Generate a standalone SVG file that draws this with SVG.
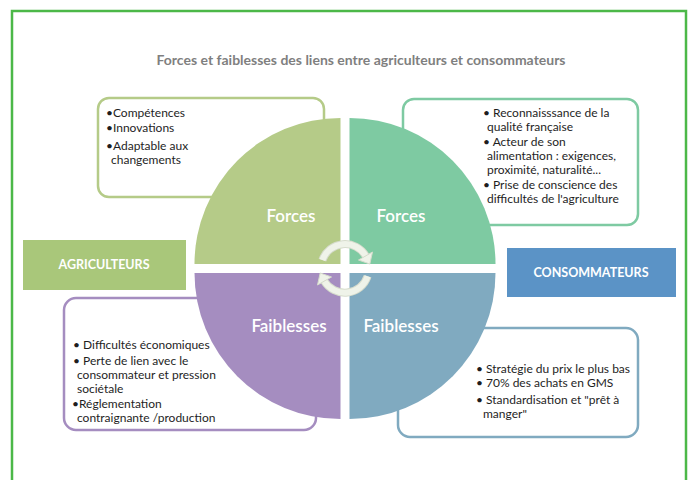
<svg xmlns="http://www.w3.org/2000/svg" width="693" height="480" viewBox="0 0 693 480">
<defs>
<style>
.t{font-family:Lato,"Open Sans","Liberation Sans",sans-serif;font-size:12px;fill:#1e1e1e}
.q{font-family:Lato,"Open Sans","Liberation Sans",sans-serif;font-size:17px;font-weight:600;fill:#fff;text-anchor:middle}
.lab{font-family:Lato,"Open Sans","Liberation Sans",sans-serif;font-size:12.5px;font-weight:bold;fill:#fff;text-anchor:middle}
.box{fill:#fff;stroke-width:2.5}
.arc-o{fill:none;stroke:#d6dccc;stroke-width:8}
.arc-i{fill:none;stroke:#eff3e9;stroke-width:6}
.head{fill:#eff3e9;stroke:#d6dccc;stroke-width:1}
</style>
</defs>
<rect x="0" y="0" width="693" height="480" fill="#fff"/>
<rect x="12" y="11" width="674" height="480" fill="none" stroke="#4cb848" stroke-width="2.5"/>
<text x="361" y="65" font-family="Lato,'Open Sans','Liberation Sans',sans-serif" font-size="14" font-weight="bold" fill="#7f7f7f" text-anchor="middle">Forces et faiblesses des liens entre agriculteurs et consommateurs</text>

<g id="box-tl">
<rect class="box" x="98" y="98" width="226" height="99" rx="11" stroke="#b5cb88"/>
<text class="t" x="106" y="117">•Compétences</text>
<text class="t" x="106" y="132">•Innovations</text>
<text class="t" x="106" y="150">•Adaptable aux</text>
<text class="t" x="111" y="164">changements</text>
</g>
<g id="box-tr">
<rect class="box" x="403" y="99" width="235" height="126" rx="11" stroke="#7ecaa2"/>
<text class="t" x="483" y="117">• Reconnaisssance de la</text>
<text class="t" x="487" y="131">qualité française</text>
<text class="t" x="483" y="146">• Acteur de son</text>
<text class="t" x="487" y="160">alimentation : exigences,</text>
<text class="t" x="487" y="174">proximité, naturalité...</text>
<text class="t" x="483" y="189">• Prise de conscience des</text>
<text class="t" x="487" y="203">difficultés de l'agriculture</text>
</g>
<g id="box-bl">
<rect class="box" x="64" y="298" width="252" height="132" rx="12" stroke="#a58dc0"/>
<text class="t" x="73" y="349">• Difficultés économiques</text>
<text class="t" x="73" y="365">• Perte de lien avec le</text>
<text class="t" x="77" y="379">consommateur et pression</text>
<text class="t" x="77" y="393">sociétale</text>
<text class="t" x="72" y="408">•Réglementation</text>
<text class="t" x="77" y="422">contraignante /production</text>
</g>
<g id="box-br">
<rect class="box" x="398" y="328" width="240" height="109" rx="12" stroke="#80aac0"/>
<text class="t" x="476" y="373">• Stratégie du prix le plus bas</text>
<text class="t" x="476" y="387">• 70% des achats en GMS</text>
<text class="t" x="476" y="404">• Standardisation et "prêt à</text>
<text class="t" x="483" y="418">manger"</text>
</g>

<g id="q-tl">
<path d="M340.5,264 L194.5,264 A146,146 0 0 1 340.5,118 Z" fill="#b5cb88"/>
<text class="q" x="291" y="222">Forces</text>
</g>
<g id="q-tr">
<path d="M349.5,264 L349.5,118 A146,146 0 0 1 495.5,264 Z" fill="#7ecaa2"/>
<text class="q" x="401" y="222">Forces</text>
</g>
<g id="q-bl">
<path d="M340.5,273 L340.5,419 A146,146 0 0 1 194.5,273 Z" fill="#a58dc0"/>
<text class="q" x="289" y="332">Faiblesses</text>
</g>
<g id="q-br">
<path d="M349.5,273 L495.5,273 A146,146 0 0 1 349.5,419 Z" fill="#80aac0"/>
<text class="q" x="401" y="332">Faiblesses</text>
</g>

<g id="agriculteurs">
<rect x="23" y="240" width="163" height="50" fill="#a9c77a"/>
<text class="lab" x="104" y="269">AGRICULTEURS</text>
</g>
<g id="consommateurs">
<rect x="507" y="248" width="169" height="49" fill="#5b93c6"/>
<text class="lab" x="591" y="277">CONSOMMATEURS</text>
</g>

<g id="connectors">
<path class="arc-o" d="M322.4,260.1 A24,24 0 0 1 365.8,256"/>
<path class="arc-i" d="M322.4,260.1 A24,24 0 0 1 365.8,256"/>
<polygon class="head" points="369.8,264 372.5,252 358.5,260"/>
<path class="arc-o" d="M367.6,276.2 A24,24 0 0 1 324.2,281"/>
<path class="arc-i" d="M367.6,276.2 A24,24 0 0 1 324.2,281"/>
<polygon class="head" points="320.2,273 317.5,285 331.5,277"/>
</g>
</svg>
